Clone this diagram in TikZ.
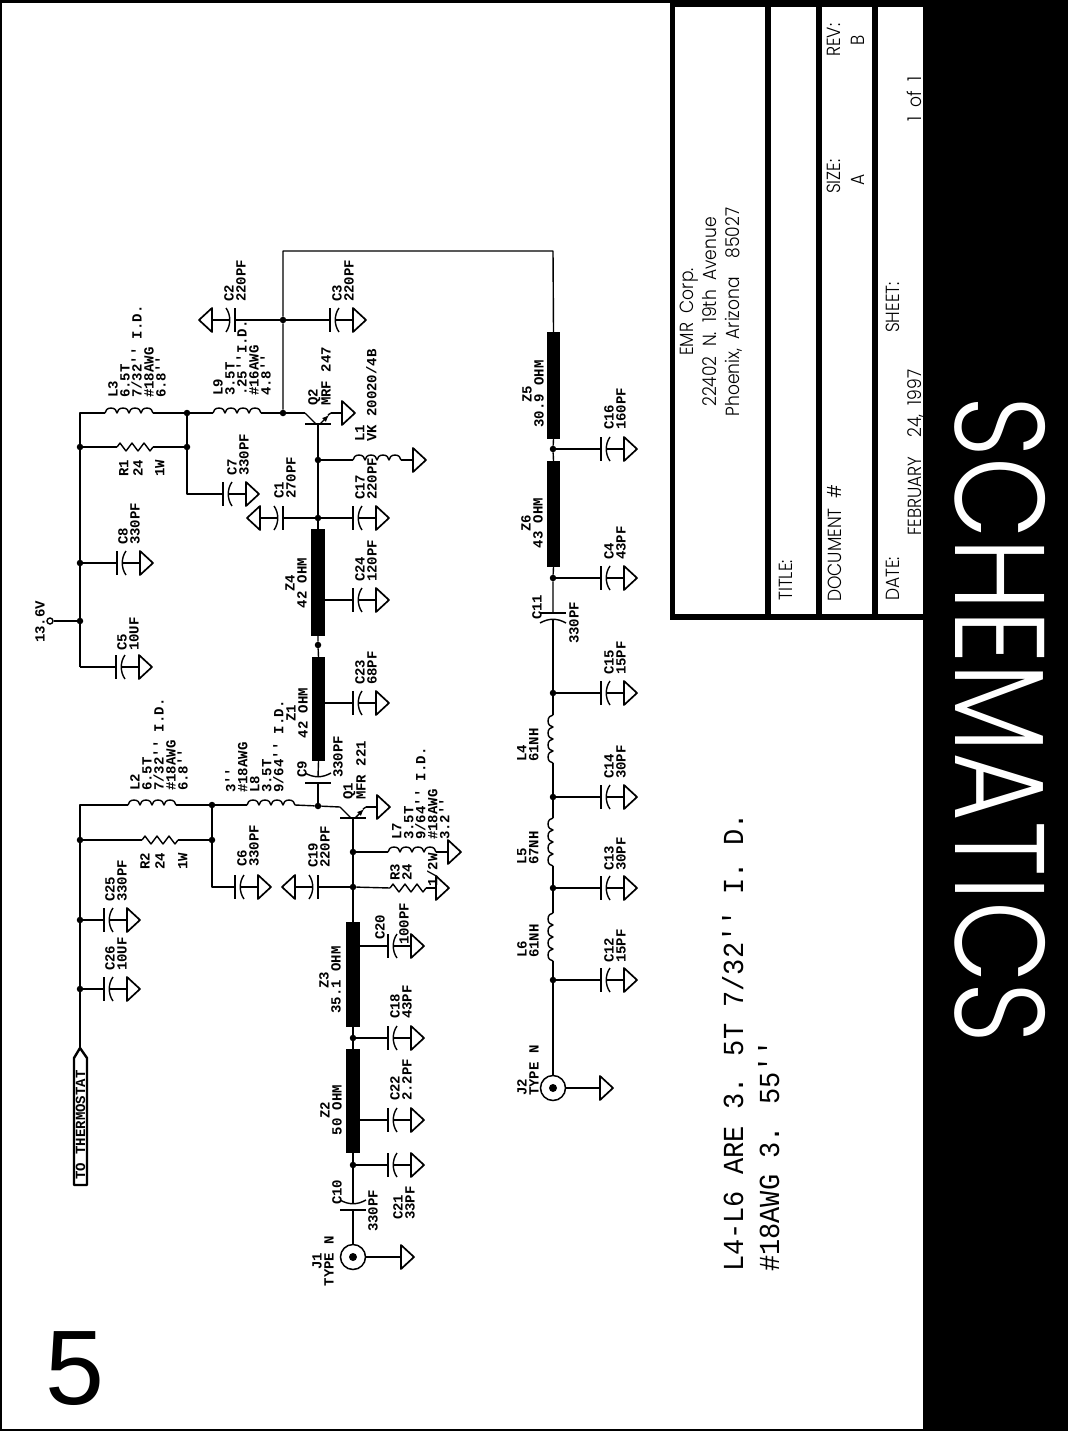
\documentclass[tikz,border=0pt]{standalone}
\usepackage{fontspec}
\usetikzlibrary{arrows}
\newfontfamily\cadfont{Liberation Mono}
\newfontfamily\notefont{Liberation Mono}[FakeStretch=0.93]
\newfontfamily\blockfont{Poppins Light}[FakeStretch=0.9,WordSpace=2]
\newfontfamily\sheetfont{Liberation Sans}
\newcommand{\qq}{'{}'}
\tikzset{
  wire/.style={line width=1.4pt,line join=round},
  fatwire/.style={line width=2.6pt},
  dot/.style={circle,fill=black,inner sep=0pt,minimum size=6.5pt},
  zline/.style={rectangle,fill=black,inner sep=0pt,minimum width=13.5pt},
  jack/.style={circle,draw,line width=1.5pt,inner sep=0pt,minimum size=25pt},
  lbl/.style={rotate=90,anchor=north west,inner sep=0pt,align=left,font=\cadfont\bfseries\fontsize{14}{12}\selectfont},
  zlbl/.style={rotate=90,anchor=center,inner sep=0pt,align=center,font=\cadfont\bfseries\fontsize{14}{12}\selectfont},
  blk/.style={rotate=90,anchor=north west,inner sep=0pt,font=\blockfont\fontsize{19}{23}\selectfont},
  note/.style={rotate=90,anchor=north west,inner sep=0pt,font=\notefont\fontsize{29}{29}\selectfont}
}
\newcommand{\gnd}[4]{
  \coordinate (#1) at (#2,#3);
  \draw[wire,line width=1.7pt,shift={(#2,#3)},xscale=#4] (0,-12) -- (13,0) -- (0,12) -- cycle;
}
\newcommand{\capgnd}[4]{
  \coordinate (#1) at (#2,#3);
  \begin{scope}[shift={(#2,#3)},xscale=#4]
    \draw[wire,line width=1.7pt] (0,-12) -- (0,12);
    \draw[wire] (9,-12) .. controls (4,-5) and (4,5) .. (9,12);
    \draw[wire] (5,0) -- (23,0);
    \draw[wire,line width=1.7pt] (23,-12) -- (36,0) -- (23,12) -- cycle;
  \end{scope}
}
\newcommand{\capin}[4]{
  \coordinate (#1-a) at (#2,#3-6*#4);
  \coordinate (#1-b) at (#2,#3);
  \draw[wire,line width=1.7pt] (#2-13,#3) -- (#2+13,#3);
  \draw[wire] (#2-13,#3-10*#4) .. controls (#2-4,#3-5*#4) and (#2+4,#3-5*#4) .. (#2+13,#3-10*#4);
}
\newcommand{\coil}[4]{
  \begin{scope}[shift={(#2,#3)},rotate=#4]
    \coordinate (#1-a) at (0,0);
    \coordinate (#1-b) at (48,0);
    \draw[wire] (0,0) \foreach \k in {1,2,3,4}{ arc[start angle=180,end angle=360,x radius=6,y radius=5] };
  \end{scope}
}
\newcommand{\res}[3]{
  \begin{scope}[shift={(#2,#3)}]
    \coordinate (#1-a) at (0,0);
    \coordinate (#1-b) at (36,0);
    \draw[wire] (0,0) -- (3,-4) -- (9,4) -- (15,-4) -- (21,4) -- (27,-4) -- (33,4) -- (36,0);
  \end{scope}
}
\newcommand{\trans}[3]{
  \coordinate (#1-b) at (#2,#3);
  \coordinate (#1-c) at (#2-13,#3-11);
  \coordinate (#1-e) at (#2+13,#3-11);
  \draw[wire] (#2-13,#3) -- (#2+13,#3);
  \draw[wire] (#1-c) -- (#2-2,#3);
  \draw[wire,-latex] (#2+2,#3) -- (#2+11,#3-9);
  \draw[wire] (#2+10,#3-9) -- (#1-e);
}
\begin{document}
\begin{tikzpicture}[x=1pt,y=-1pt]
  \useasboundingbox (0,0) rectangle (1068,1431);
  \fill[white] (0,0) rectangle (1068,1431);
  \fill[black] (0,0) rectangle (1068,3);
  \fill[black] (0,0) rectangle (2,1431);
  \fill[black] (0,1428.5) rectangle (1068,1431);
  \fill[black] (670,0) rectangle (926,620);
  \fill[white] (675,7) rectangle (765,614);
  \fill[white] (771,7) rectangle (816,614);
  \fill[white] (822,7) rectangle (872,614);
  \fill[white] (878,7) rectangle (930,614);

  \node[blk,anchor=center,align=center] (addr) at (711,312) {EMR Corp.\\22402 N. 19th Avenue\\Phoenix, Arizona\ \ 85027};
  \node[blk] (ttitle) at (779,601) {TITLE:};
  \node[blk] (tdoc) at (827,602) {DOCUMENT \#};
  \node[blk] (tsize) at (827,194) {SIZE:};
  \node[blk] (tsizea) at (851,186) {A};
  \node[blk] (trev) at (827,57) {REV:};
  \node[blk] (trevb) at (851,46) {B};
  \node[blk] (tdate) at (886,601) {DATE:};
  \node[blk] (tdateb) at (907,536) {FEBRUARY\ \ 24, 1997};
  \node[blk] (tsheet) at (886,333) {SHEET:};
  \node[blk] (tsheetb) at (907,122) {1 of 1};

  \fill[black] (923,0) rectangle (1068,1431);
  \node[rotate=-90,inner sep=0pt,text=white] (title) at (1000,720) {\resizebox{646pt}{90pt}{\blockfont SCHEMATICS}};
  \node[inner sep=0pt,anchor=base west,font=\sheetfont\fontsize{106}{106}\selectfont] (pageno) at (45,1404) {5};

  % supply side
  \node[dot] (n1) at (80,447) {};
  \node[dot] (n2) at (80,563) {};
  \node[dot] (n3) at (80,621) {};
  \node[dot] (n4) at (187,413) {};
  \node[dot] (n5) at (187,447) {};
  \node[dot] (n6) at (283,413) {};
  \node[dot] (n7) at (283,320) {};
  \node[dot] (n8) at (318,460) {};
  \node[dot] (n9) at (318,518) {};
  \node[dot] (n10) at (318,645) {};
  \node[dot] (n11) at (80,840) {};
  \node[dot] (n12) at (80,920) {};
  \node[dot] (n13) at (80,989) {};
  \node[dot] (n14) at (212,805) {};
  \node[dot] (n15) at (212,840) {};
  \node[dot] (n16) at (318,806) {};
  \node[dot] (n17) at (353,852) {};
  \node[dot] (n18) at (353,887) {};
  \node[dot] (n19) at (353,1038) {};
  \node[dot] (n20) at (353,1165) {};
  \node[dot] (n21) at (553,449) {};
  \node[dot] (n22) at (553,578) {};
  \node[dot] (n23) at (553,693) {};
  \node[dot] (n24) at (553,797) {};
  \node[dot] (n25) at (553,888) {};
  \node[dot] (n26) at (553,980) {};
  \node[circle,draw,line width=1.4pt,inner sep=0pt,minimum size=6pt] (v136) at (50,621) {};
  \coordinate (cl3) at (80,413);
  \coordinate (cc5) at (80,667);
  \coordinate (cl2) at (80,805);
  \coordinate (cflag) at (80,1048);
  \coordinate (cc7) at (187,494);
  \coordinate (cc6) at (212,887);
  \coordinate (ct1) at (283,251);
  \coordinate (ct2) at (553,251);

  \node[zline,minimum height=107pt] (z4) at (318,582.5) {};
  \node[zline,minimum height=104pt] (z1) at (318.5,709) {};
  \node[zline,minimum height=105pt] (z3) at (353,974.5) {};
  \node[zline,minimum height=104pt] (z2) at (353,1101) {};
  \node[zline,minimum height=107pt] (z5) at (553.5,385.5) {};
  \node[zline,minimum height=106pt] (z6) at (553.5,514) {};
  \node[jack] (j1) at (353,1257) {};
  \node[jack] (j2) at (553,1088) {};
  \node[dot,minimum size=8pt] (j1c) at (j1) {};
  \node[dot,minimum size=8pt] (j2c) at (j2) {};

  \coil{l3}{105}{413}{0}
  \coil{l9}{213}{413}{0}
  \coil{l1}{353}{460}{0}
  \coil{l2}{128}{805}{0}
  \coil{l8}{247}{805}{0}
  \coil{l7}{388}{852}{0}
  \coil{l4}{553}{763}{90}
  \coil{l5}{553}{866}{90}
  \coil{l6}{553}{961}{90}
  \res{r1}{117}{447}
  \res{r2}{142}{840}
  \res{r3}{390}{888}
  \trans{q2}{318}{424}
  \trans{q1}{353}{818}
  \capin{c9}{318}{783}{1}
  \capin{c10}{353}{1210}{1}
  \capin{c11}{553}{613}{-1}

  \capgnd{c2}{235}{320}{-1}
  \capgnd{c3}{330}{320}{1}
  \capgnd{c7}{223}{494}{1}
  \capgnd{c1}{283}{518}{-1}
  \capgnd{c17}{353}{518}{1}
  \capgnd{c8}{117}{563}{1}
  \capgnd{c24}{353}{600}{1}
  \capgnd{c5}{116}{667}{1}
  \capgnd{c23}{353}{703}{1}
  \capgnd{c6}{235}{887}{1}
  \capgnd{c19}{318}{887}{-1}
  \capgnd{c25}{104}{920}{1}
  \capgnd{c26}{104}{989}{1}
  \capgnd{c20}{388}{946}{1}
  \capgnd{c18}{388}{1038}{1}
  \capgnd{c22}{388}{1120}{1}
  \capgnd{c21}{388}{1165}{1}
  \capgnd{c16}{601}{449}{1}
  \capgnd{c4}{601}{578}{1}
  \capgnd{c15}{601}{693}{1}
  \capgnd{c14}{601}{797}{1}
  \capgnd{c13}{601}{888}{1}
  \capgnd{c12}{601}{980}{1}
  \gnd{g1}{342}{413}{1}
  \gnd{g2}{413}{460}{1}
  \gnd{g3}{377}{807}{1}
  \gnd{g4}{448}{852}{1}
  \gnd{g5}{436}{888}{1}
  \gnd{g6}{401}{1257}{1}
  \gnd{g7}{600}{1088}{1}

  \draw[wire,line width=2pt] (cc5) -- (n3) -- (n2) -- (n1) -- (cl3) -- (l3-a);
  \draw[wire] (cc5) -- (c5);
  \draw[wire] (n3) -- (v136);
  \draw[wire] (n2) -- (c8);
  \draw[wire] (l3-b) -- (n4) -- (l9-a);
  \draw[wire] (l9-b) -- (n6) -- (q2-c);
  \draw[wire] (q2-e) -- (g1);
  \draw[wire] (n1) -- (r1-a);
  \draw[wire] (r1-b) -- (n5);
  \draw[wire] (n4) -- (n5) -- (cc7) -- (c7);
  \draw[wire] (n6) -- (n7) -- (ct1) -- (ct2) -- (z5.north);
  \draw[wire] (n7) -- (c2);
  \draw[wire] (n7) -- (c3);
  \draw[wire] (q2-b) -- (n8) -- (n9) -- (z4.north);
  \draw[wire] (n8) -- (l1-a);
  \draw[wire] (l1-b) -- (g2);
  \draw[wire] (n9) -- (c1);
  \draw[wire] (n9) -- (c17);
  \draw[wire] (c24 -| z4.east) -- (c24);
  \draw[wire] (z4.south) -- (n10) -- (z1.north);
  \draw[wire] (c23 -| z1.east) -- (c23);
  \draw[wire] (z1.south) -- (c9-a);
  \draw[wire] (c9-b) -- (n16);

  \draw[wire,line width=2pt] (cflag) -- (n13) -- (n12) -- (n11) -- (cl2) -- (l2-a);
  \draw[wire] (n11) -- (r2-a);
  \draw[wire] (r2-b) -- (n15);
  \draw[wire] (n12) -- (c25);
  \draw[wire] (n13) -- (c26);
  \draw[wire] (l2-b) -- (n14) -- (l8-a);
  \draw[wire] (l8-b) -- (n16) -- (q1-c);
  \draw[wire] (n14) -- (n15) -- (cc6) -- (c6);
  \draw[wire] (q1-e) -- (g3);
  \draw[fatwire] (q1-b) -- (n17) -- (n18) -- (z3.north);
  \draw[wire] (n17) -- (l7-a);
  \draw[wire] (l7-b) -- (g4);
  \draw[wire] (n18) -- (r3-a);
  \draw[wire] (r3-b) -- (g5);
  \draw[wire] (n18) -- (c19);
  \draw[wire] (c20 -| z3.east) -- (c20);
  \draw[wire] (z3.south) -- (n19) -- (z2.north);
  \draw[wire] (n19) -- (c18);
  \draw[wire] (c22 -| z2.east) -- (c22);
  \draw[wire] (z2.south) -- (n20) -- (c10-a);
  \draw[wire] (n20) -- (c21);
  \draw[wire] (c10-b) -- (j1.north);
  \draw[wire] (j1.east) -- (g6);

  \draw[wire] (z5.south) -- (n21) -- (z6.north);
  \draw[wire] (n21) -- (c16);
  \draw[wire] (z6.south) -- (n22) -- (c11-b);
  \draw[wire] (n22) -- (c4);
  \draw[wire] (c11-a) -- (n23) -- (l4-b);
  \draw[wire] (n23) -- (c15);
  \draw[wire] (l4-a) -- (n24) -- (l5-b);
  \draw[wire] (n24) -- (c14);
  \draw[wire] (l5-a) -- (n25) -- (l6-b);
  \draw[wire] (n25) -- (c13);
  \draw[wire] (l6-a) -- (n26) -- (j2.north);
  \draw[wire] (n26) -- (c12);
  \draw[wire] (j2.east) -- (g7);

  \draw[line width=2.4pt,line join=round] (cflag) -- (87,1058) -- (87,1185) -- (74,1185) -- (74,1058) -- cycle;
  \node[zlbl] (lflag) at (80.5,1125) {TO THERMOSTAT};

  \node[lbl] (lc2) at (224,302) {C2\\220PF};
  \node[lbl] (lc3) at (332,302) {C3\\220PF};
  \node[lbl] (ll3) at (108,398) {L3\\6.5T\\7/32\qq\ I.D.\\\#18AWG\\6.8\qq};
  \node[lbl] (ll9) at (213,396) {L9\\3.5T\\.25\qq I.D.\\\#16AWG\\4.8\qq};
  \node[lbl] (lq2) at (308,406) {Q2\\MRF 247};
  \node[lbl] (ll1) at (355,442) {L1\\VK 20020/4B};
  \node[lbl] (lr1) at (119,477) {R1};
  \node[lbl] (lr1b) at (133,477) {24};
  \node[lbl] (lr1c) at (155,477) {1W};
  \node[lbl] (lc7) at (227,476) {C7\\330PF};
  \node[lbl] (lc1) at (274,499) {C1\\270PF};
  \node[lbl] (lc17) at (355,500) {C17\\220PF};
  \node[lbl] (lc8) at (118,545) {C8\\330PF};
  \node[lbl] (lc24) at (355,582) {C24\\120PF};
  \node[zlbl] (lz4) at (296,583) {Z4\\42 OHM};
  \node[lbl] (lv136) at (35,643) {13.6V};
  \node[lbl] (lc5) at (117,651) {C5\\10UF};
  \node[lbl] (lc23) at (355,685) {C23\\68PF};
  \node[zlbl] (lz1) at (297,713) {Z1\\42 OHM};
  \node[lbl] (ll8) at (225,793) {3\qq\\\#18AWG\\L8\\3.5T\\9/64\qq\ I.D.};
  \node[lbl] (ll2) at (130,791) {L2\\6.5T\\7/32\qq\ I.D.\\\#18AWG\\6.8\qq};
  \node[lbl] (lc9) at (297,778) {C9};
  \node[lbl] (lc9b) at (333,778) {330PF};
  \node[lbl] (lq1) at (343,800) {Q1\\MFR 221};
  \node[lbl] (ll7) at (392,840) {L7\\3.5T\\9/64\qq\ I.D.\\\#18AWG\\3.2\qq};
  \node[lbl] (lr3) at (390,881) {R3\\24};
  \node[lbl] (lr3b) at (427,887) {1/2W};
  \node[lbl] (lc19) at (308,868) {C19\\220PF};
  \node[lbl] (lc6) at (237,867) {C6\\330PF};
  \node[lbl] (lr2) at (140,870) {R2};
  \node[lbl] (lr2b) at (155,870) {24};
  \node[lbl] (lr2c) at (178,870) {1W};
  \node[lbl] (lc25) at (105,902) {C25\\330PF};
  \node[lbl] (lc26) at (105,971) {C26\\10UF};
  \node[lbl] (lc20) at (375,940) {C20};
  \node[lbl] (lc20b) at (399,945) {100PF};
  \node[zlbl] (lz3) at (330,980) {Z3\\35.1 OHM};
  \node[lbl] (lc18) at (390,1019) {C18\\43PF};
  \node[zlbl] (lz2) at (331,1110) {Z2\\50 OHM};
  \node[lbl] (lc22) at (390,1101) {C22\\2.2PF};
  \node[lbl] (lc21) at (393,1220) {C21\\33PF};
  \node[lbl] (lc10) at (332,1205) {C10};
  \node[lbl] (lc10b) at (368,1232) {330PF};
  \node[zlbl] (lj1) at (323,1261) {J1\\TYPE N};
  \node[zlbl] (lz5) at (533,394) {Z5\\30.9 OHM};
  \node[lbl] (lc16) at (604,430) {C16\\160PF};
  \node[zlbl] (lz6) at (532,523) {Z6\\43 OHM};
  \node[lbl] (lc4) at (604,560) {C4\\43PF};
  \node[lbl] (lc11) at (532,620) {C11};
  \node[lbl] (lc11b) at (569,644) {330PF};
  \node[lbl] (lc15) at (604,675) {C15\\15PF};
  \node[lbl] (ll4) at (517,762) {L4\\61NH};
  \node[lbl] (lc14) at (604,779) {C14\\30PF};
  \node[lbl] (ll5) at (517,865) {L5\\67NH};
  \node[lbl] (lc13) at (604,871) {C13\\30PF};
  \node[lbl] (ll6) at (517,958) {L6\\61NH};
  \node[lbl] (lc12) at (604,963) {C12\\15PF};
  \node[lbl] (lj2) at (517,1096) {J2\\TYPE N};

  \node[note] (note1) at (722,1272) {L4-L6 ARE 3. 5T 7/32\qq\ I. D.};
  \node[note] (note2) at (758,1272) {\#18AWG 3. 55\qq};
\end{tikzpicture}
\end{document}
